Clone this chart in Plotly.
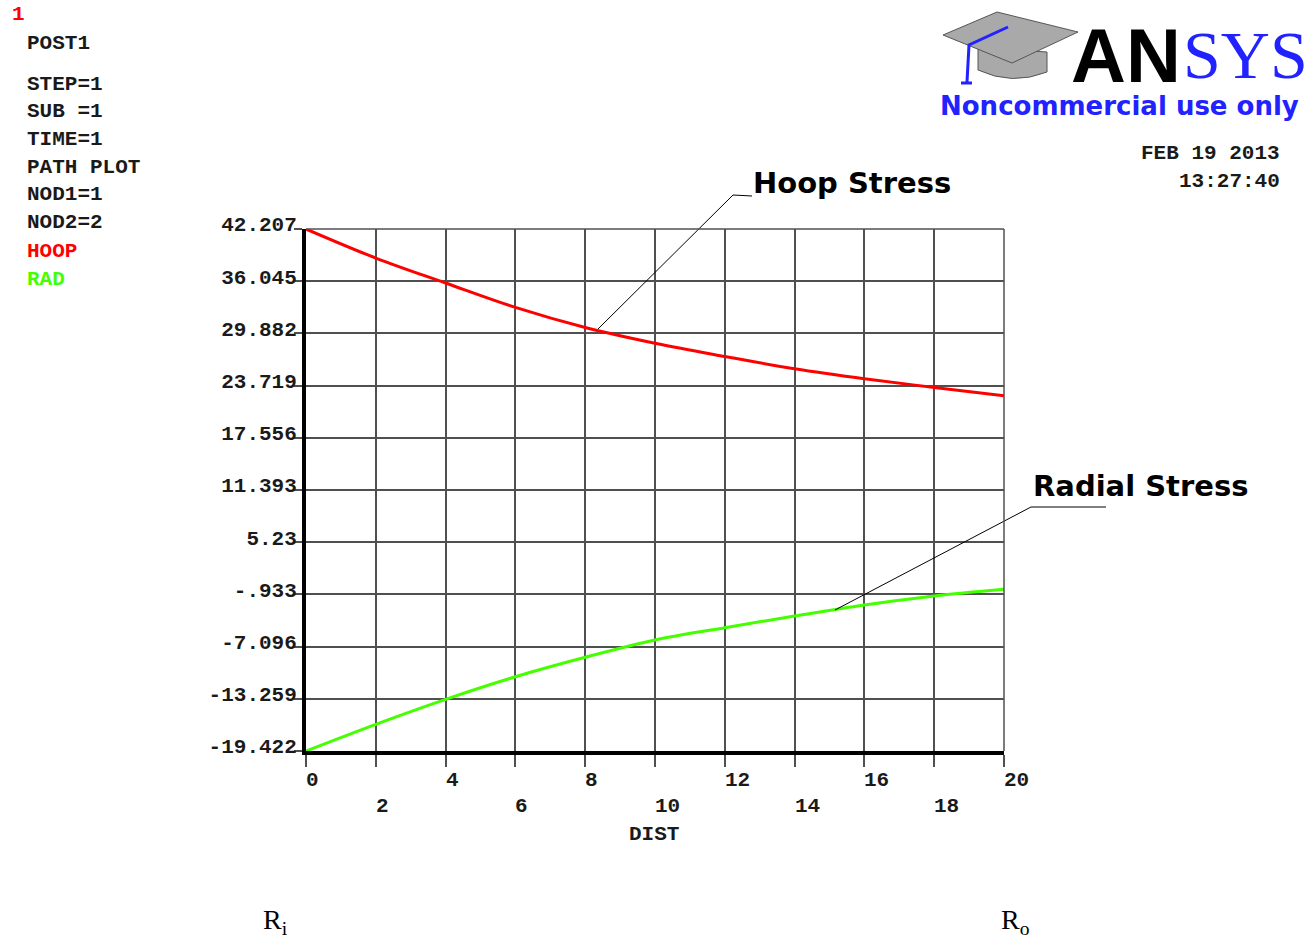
import plotly.graph_objects as go

# ---------------- data ----------------
dist = [0, 2, 4, 6, 8, 10, 12, 14, 16, 18, 20]
hoop = [42.207, 38.78, 35.83, 32.95, 30.58, 28.72, 27.16, 25.70, 24.52, 23.50, 22.51]
rad = [-19.422, -16.27, -13.32, -10.65, -8.35, -6.31, -4.86, -3.48, -2.18, -1.11, -0.32]

y_tickvals = [42.207, 36.045, 29.882, 23.719, 17.556, 11.393, 5.23, -0.933, -7.096, -13.259, -19.422]
y_ticktext = ["42.207", "36.045", "29.882", "23.719", "17.556", "11.393", "5.23", "-.933", "-7.096", "-13.259", "-19.422"]
x_tickvals = [0, 2, 4, 6, 8, 10, 12, 14, 16, 18, 20]
x_ticktext = ["0", "2", "4", "6", "8", "10", "12", "14", "16", "18", "20"]

info_lines = ["POST1", "STEP=1", "SUB =1", "TIME=1", "PATH PLOT", "NOD1=1", "NOD2=2"]

# ---------------- layout geometry ----------------
W, H = 1311, 938
L, R, T, B = 306, 1004, 229, 751
PW, PH = R - L, B - T

MONO = "Liberation Mono"
RED = "#ff0000"
GREEN = "#44ff00"
BLUE = "#2222ff"
GRID = "#505050"
TXT = "#1a1a1a"
MONO_FONT = dict(family=MONO, size=21, color=TXT, weight="bold")


def px(x):
    return (x - L) / PW


def py(y):
    return (B - y) / PH


def mfont(color=TXT):
    return dict(family=MONO, size=21, color=color, weight="bold")


fig = go.Figure()
fig.add_trace(go.Scatter(x=dist, y=hoop, mode="lines", name="HOOP",
                         line=dict(color=RED, width=3, shape="spline")))
fig.add_trace(go.Scatter(x=dist, y=rad, mode="lines", name="RAD",
                         line=dict(color=GREEN, width=3, shape="spline")))

annotations = []
shapes = []

# x tick labels (two staggered rows, left-aligned at the tick)
for i, (v, t) in enumerate(zip(x_tickvals, x_ticktext)):
    ypx = 780 if i % 2 == 0 else 806
    annotations.append(dict(x=v, xref="x", y=py(ypx), yref="paper", text=t,
                            showarrow=False, xanchor="left", yanchor="middle", xshift=-2,
                            font=mfont()))

# left info block
annotations.append(dict(x=px(10), y=py(14), xref="paper", yref="paper", text="1",
                        showarrow=False, xanchor="left", yanchor="middle",
                        font=mfont(RED)))
info_y = [43, 84, 111, 139, 167, 195, 223]
for t, yy in zip(info_lines, info_y):
    annotations.append(dict(x=px(25), y=py(yy), xref="paper", yref="paper", text=t,
                            showarrow=False, xanchor="left", yanchor="middle",
                            font=mfont()))
annotations.append(dict(x=px(25), y=py(251), xref="paper", yref="paper", text="HOOP",
                        showarrow=False, xanchor="left", yanchor="middle",
                        font=mfont(RED)))
annotations.append(dict(x=px(25), y=py(279), xref="paper", yref="paper", text="RAD",
                        showarrow=False, xanchor="left", yanchor="middle",
                        font=mfont(GREEN)))

# date / time
annotations.append(dict(x=px(1282), y=py(154), xref="paper", yref="paper", text="FEB 19 2013",
                        showarrow=False, xanchor="right", yanchor="middle",
                        font=mfont()))
annotations.append(dict(x=px(1282), y=py(182), xref="paper", yref="paper", text="13:27:40",
                        showarrow=False, xanchor="right", yanchor="middle",
                        font=mfont()))

# DIST axis label
annotations.append(dict(x=px(654), y=py(834), xref="paper", yref="paper", text="DIST",
                        showarrow=False, xanchor="center", yanchor="middle",
                        font=mfont()))

# callout labels
annotations.append(dict(x=px(751), y=py(183), xref="paper", yref="paper", text="<b>Hoop Stress</b>",
                        showarrow=False, xanchor="left", yanchor="middle",
                        font=dict(family="DejaVu Sans", size=29, color="black")))
annotations.append(dict(x=px(1031), y=py(486), xref="paper", yref="paper", text="<b>Radial Stress</b>",
                        showarrow=False, xanchor="left", yanchor="middle",
                        font=dict(family="DejaVu Sans", size=29, color="black")))
shapes.append(dict(type="path", xref="paper", yref="paper",
                   path=f"M {px(598)} {py(329)} L {px(733)} {py(195)} L {px(752)} {py(196)}",
                   line=dict(color="black", width=1)))
shapes.append(dict(type="path", xref="paper", yref="paper",
                   path=f"M {px(835)} {py(610)} L {px(1031)} {py(507)} L {px(1106)} {py(507)}",
                   line=dict(color="black", width=1)))

# top / right frame of the plot box (thin grey)
shapes.append(dict(type="line", xref="paper", yref="paper", x0=0, x1=1, y0=1, y1=1,
                   line=dict(color=GRID, width=1.5)))
shapes.append(dict(type="line", xref="paper", yref="paper", x0=1, x1=1, y0=0, y1=1,
                   line=dict(color=GRID, width=1.5)))

# R_i / R_o
annotations.append(dict(x=px(275), y=py(922), xref="paper", yref="paper", text="R<sub>i</sub>",
                        showarrow=False, xanchor="center", yanchor="middle",
                        font=dict(family="Liberation Serif", size=28, color="black")))
annotations.append(dict(x=px(1015), y=py(922), xref="paper", yref="paper", text="R<sub>o</sub>",
                        showarrow=False, xanchor="center", yanchor="middle",
                        font=dict(family="Liberation Serif", size=28, color="black")))

# ANSYS logo (graduation cap + wordmark)
shapes.append(dict(type="path", xref="paper", yref="paper",
                   path=(f"M {px(978)} {py(47)} L {px(978)} {py(70)} "
                         f"Q {px(1012)} {py(86)} {px(1047)} {py(72)} L {px(1047)} {py(52)} Z"),
                   fillcolor="#a9a9a9", line=dict(color="#555", width=1)))
shapes.append(dict(type="path", xref="paper", yref="paper",
                   path=(f"M {px(943)} {py(35)} L {px(997)} {py(12)} L {px(1078)} {py(32)} "
                         f"L {px(1012)} {py(63)} Z"),
                   fillcolor="#a9a9a9", line=dict(color="#555", width=1)))
shapes.append(dict(type="path", xref="paper", yref="paper",
                   path=(f"M {px(1008)} {py(27)} L {px(969)} {py(45)} L {px(967)} {py(82)} "
                         f"M {px(961)} {py(83)} L {px(972)} {py(83)}"),
                   line=dict(color=BLUE, width=3)))
annotations.append(dict(x=px(1183), y=py(55), xref="paper", yref="paper", text="<b>AN</b>",
                        showarrow=False, xanchor="right", yanchor="middle",
                        font=dict(family="Liberation Sans", size=76, color="black")))
annotations.append(dict(x=px(1181), y=py(55), xref="paper", yref="paper", text="SYS",
                        showarrow=False, xanchor="left", yanchor="middle",
                        font=dict(family="Liberation Serif", size=68, color=BLUE)))
annotations.append(dict(x=px(1301), y=py(106), xref="paper", yref="paper",
                        text="<b>Noncommercial use only</b>",
                        showarrow=False, xanchor="right", yanchor="middle",
                        font=dict(family="DejaVu Sans", size=26, color=BLUE)))

fig.update_layout(
    width=W, height=H,
    margin=dict(l=L, r=W - R, t=T, b=H - B, autoexpand=False),
    paper_bgcolor="white", plot_bgcolor="white",
    showlegend=False,
    annotations=annotations,
    shapes=shapes,
    xaxis=dict(range=[0, 20], tickvals=x_tickvals, showticklabels=False,
               showgrid=True, gridcolor=GRID, gridwidth=1.5, zeroline=False,
               showline=True, linecolor="black", linewidth=4,
               ticks="outside", ticklen=12, tickcolor=GRID, tickwidth=1.5),
    yaxis=dict(range=[-19.422, 42.207], tickvals=y_tickvals, ticktext=y_ticktext,
               showgrid=True, gridcolor=GRID, gridwidth=1.5, zeroline=False,
               showline=True, linecolor="black", linewidth=4,
               ticks="outside", ticklen=8, tickcolor=GRID, tickwidth=1.5,
               ticklabelshift=-5, ticklabelstandoff=-7,
               tickfont=MONO_FONT),
)

fig.write_html("out.html", config={"displayModeBar": False},
               post_script="document.body.style.margin='0';")
